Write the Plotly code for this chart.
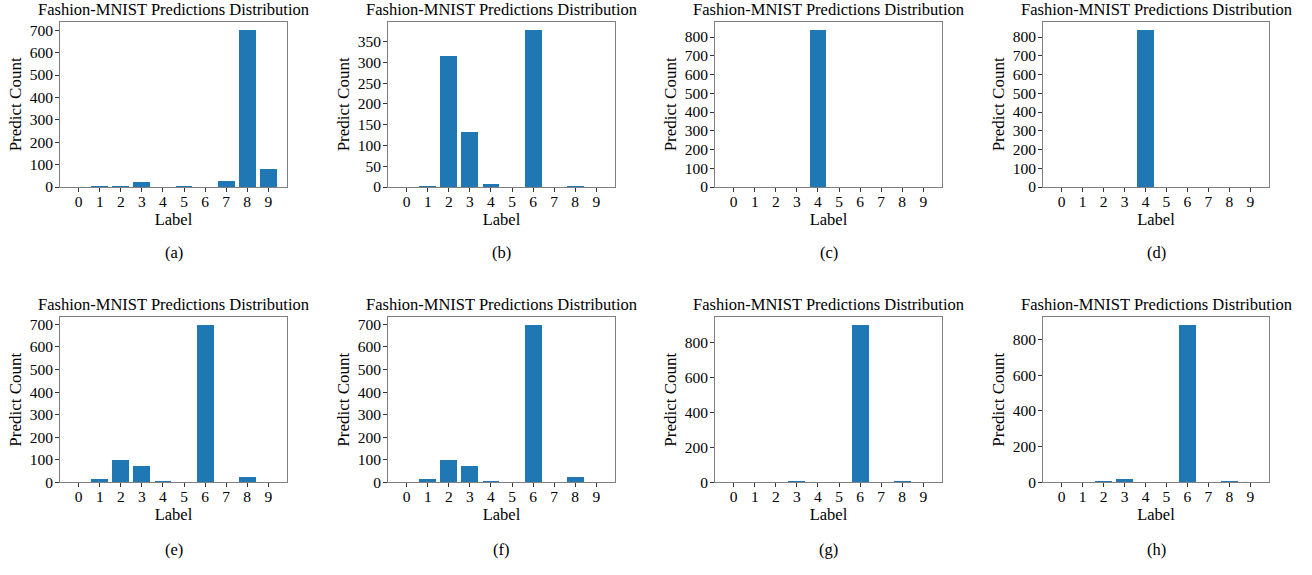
import plotly.graph_objects as go

labels = [0, 1, 2, 3, 4, 5, 6, 7, 8, 9]
tick_text = ["0", "1", "2", "3", "4", "5", "6", "7", "8", "9"]
panel_names = ["(a)", "(b)", "(c)", "(d)", "(e)", "(f)", "(g)", "(h)"]
counts_a = [0, 5, 3, 25, 0, 3, 0, 28, 703, 82]
counts_b = [0, 2, 316, 133, 9, 0, 379, 0, 4, 0]
counts_c = [0, 0, 0, 0, 840, 0, 0, 0, 0, 0]
counts_d = [0, 0, 0, 0, 840, 0, 0, 0, 0, 0]
counts_e = [0, 17, 97, 71, 6, 0, 698, 0, 22, 0]
counts_f = [0, 17, 97, 72, 5, 0, 698, 0, 22, 0]
counts_g = [0, 0, 0, 4, 0, 0, 903, 0, 5, 0]
counts_h = [0, 0, 6, 20, 0, 0, 882, 0, 5, 0]
y_dticks = [100, 50, 100, 100, 100, 100, 200, 200]
title_text = "Fashion-MNIST Predictions Distribution"
xlabel = "Label"
ylabel = "Predict Count"

all_counts = [counts_a, counts_b, counts_c, counts_d, counts_e, counts_f, counts_g, counts_h]

W, H = 1312, 575
col_px = [(60, 287), (388, 615), (715, 942), (1043, 1269)]
row_px = [(21, 189), (321, 489)]
caption_y_px = [255, 557]

FONT = "Liberation Serif, Times New Roman, serif"
fig = go.Figure()
annotations = []
layout = {}
for i, counts in enumerate(all_counts):
    r, c = divmod(i, 4)
    n = i + 1
    xa = "x" if n == 1 else f"x{n}"
    ya = "y" if n == 1 else f"y{n}"
    fig.add_trace(go.Bar(x=labels, y=counts, width=0.8, marker=dict(color="#1f77b4", line=dict(width=0)),
                         xaxis=xa, yaxis=ya, showlegend=False))
    x0, x1 = col_px[c]
    ytop, ybot = row_px[r]
    xd = [x0 / W, x1 / W]
    yd = [1 - ybot / H, 1 - ytop / H]
    axcommon = dict(showline=True, linecolor="#808080", linewidth=1, mirror=True, showgrid=False,
                    zeroline=False, ticks="outside", ticklen=4, tickcolor="#333",
                    tickfont=dict(family=FONT, size=15.5, color="black"))
    layout["xaxis" if n == 1 else f"xaxis{n}"] = dict(
        domain=xd, anchor=ya, range=[-0.89, 9.89], tickvals=labels, ticktext=tick_text,
        ticklabelstandoff=-4,
        title=dict(text=xlabel, font=dict(family=FONT, size=16.5, color="black"), standoff=0),
        **axcommon)
    layout["yaxis" if n == 1 else f"yaxis{n}"] = dict(
        domain=yd, anchor=xa, range=[0, max(counts) * 1.05], dtick=y_dticks[i], tick0=0,
        ticklabelstandoff=-1,
        title=dict(text=ylabel, font=dict(family=FONT, size=17, color="black"), standoff=3),
        **axcommon)
    xc = (xd[0] + xd[1]) / 2
    annotations.append(dict(text=title_text, x=xc, y=yd[1], xref="paper", yref="paper",
                            xanchor="center", yanchor="middle", yshift=12, showarrow=False,
                            font=dict(family=FONT, size=16.5, color="black")))
    annotations.append(dict(text=panel_names[i], x=xc, y=1 - caption_y_px[r] / H,
                            xref="paper", yref="paper",
                            xanchor="center", yanchor="middle", showarrow=False,
                            font=dict(family=FONT, size=16.5, color="black")))

fig.update_layout(width=W, height=H, margin=dict(l=0, r=0, t=0, b=0),
                  paper_bgcolor="white", plot_bgcolor="white", bargap=0,
                  annotations=annotations, **layout)
fig.write_html("out.html", config={"displayModeBar": False},
               post_script="document.body.style.margin='0';")
